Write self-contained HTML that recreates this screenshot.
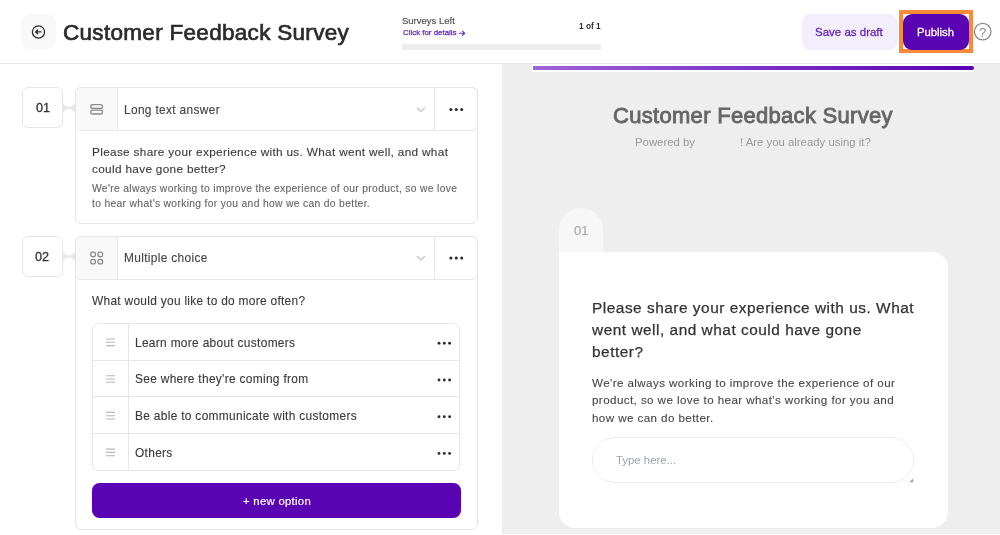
<!DOCTYPE html>
<html><head><meta charset="utf-8">
<style>
*{box-sizing:border-box;margin:0;padding:0}
html,body{width:1000px;height:535px;overflow:hidden;background:#fff}
body{position:relative;-webkit-font-smoothing:antialiased;font-family:"Liberation Sans",sans-serif;color:#333}
.a{position:absolute;will-change:transform}
.t{position:absolute;white-space:nowrap;line-height:1;will-change:transform}
svg{position:absolute;overflow:visible}
</style></head><body>

<!-- HEADER -->
<div class="a" style="left:0;top:63px;width:1000px;height:1px;background:#e6e6e6"></div>
<div class="a" style="left:21px;top:14px;width:35px;height:35px;border-radius:9px;background:#f8f8f8"></div>
<svg style="left:0;top:0" width="1" height="1">
  <circle cx="38.5" cy="31.9" r="6.1" fill="none" stroke="#2e2e2e" stroke-width="1.25"/>
  <path d="M40.9 31.9H36M37.7 30L35.6 31.9L37.7 33.8" fill="none" stroke="#2e2e2e" stroke-width="1.35" stroke-linecap="round" stroke-linejoin="round"/>
</svg>
<div class="t" style="left:63px;top:22px;font-size:22.5px;letter-spacing:0.3px;-webkit-text-stroke:0.7px #2b2b2b;color:#2b2b2b">Customer Feedback Survey</div>

<div class="t" style="left:402px;top:16px;font-size:9.5px;-webkit-text-stroke:0.2px #555;color:#555">Surveys Left</div>
<div class="t" style="left:402.5px;top:28.9px;font-size:7.9px;-webkit-text-stroke:0.25px #6a1fc4;color:#6a1fc4">Click for details</div>
<svg style="left:0;top:0" width="1" height="1"><path d="M459.6 33.3H464.6M462.5 31.2L464.7 33.3L462.5 35.4" fill="none" stroke="#6a1fc4" stroke-width="1.05" stroke-linecap="round" stroke-linejoin="round"/></svg>
<div class="a" style="left:402px;top:44px;width:199px;height:5.5px;background:#ededed"></div>
<div class="t" style="left:579px;top:21.5px;font-size:8.3px;font-weight:700;color:#2e2e2e">1 of 1</div>

<div class="a" style="left:801.5px;top:14px;width:96px;height:35.5px;border-radius:9px;background:#f3eefc"></div>
<div class="t" style="left:815px;top:27px;font-size:11.5px;-webkit-text-stroke:0.28px #6521bd;color:#6521bd">Save as draft</div>
<div class="a" style="left:899px;top:10px;width:73.5px;height:43px;border:4px solid #f98a3a"></div>
<div class="a" style="left:903px;top:14px;width:65.5px;height:35.5px;border-radius:9px;background:#5a03b3"></div>
<div class="t" style="left:917px;top:27px;font-size:11.3px;-webkit-text-stroke:0.28px #fff;color:#fff">Publish</div>
<svg style="left:0;top:0" width="1" height="1">
  <circle cx="982.7" cy="31.6" r="8.3" fill="none" stroke="#8a8a8a" stroke-width="1.25"/>
  <text x="982.7" y="36.6" text-anchor="middle" font-family="Liberation Sans" font-size="13" fill="#8a8a8a">?</text>
</svg>

<!-- RIGHT PANEL -->
<div class="a" style="left:502px;top:64px;width:498px;height:469.5px;background:#eeeeee"></div>
<div class="a" style="left:532px;top:64px;width:441.5px;height:8px;background:#fff"></div>
<div class="a" style="left:532.5px;top:66px;width:441px;height:4.2px;border-radius:0 2.1px 2.1px 0;background:linear-gradient(90deg,#9e64d8,#5a00b4)"></div>
<div class="t" style="left:613px;top:104.8px;font-size:22px;letter-spacing:0.3px;-webkit-text-stroke:0.85px #666;color:#666">Customer Feedback Survey</div>
<div class="t" style="left:634.5px;top:136.5px;font-size:11.36px;color:#999">Powered by</div>
<div class="t" style="left:739.5px;top:136.5px;font-size:11.36px;color:#999">! Are you already using it?</div>

<div class="a" style="left:559px;top:208px;width:44px;height:45px;border-radius:22px 22px 0 0;background:#f7f7f7"></div>
<div class="t" style="left:574px;top:223.5px;font-size:13px;-webkit-text-stroke:0.2px #aaa;color:#aaa">01</div>
<div class="a" style="left:559px;top:252px;width:389px;height:276px;border-radius:0 16px 16px 16px;background:#fff"></div>
<div class="a" style="left:591.7px;top:297px;width:400px;white-space:nowrap;font-size:15.4px;letter-spacing:0.52px;line-height:22px;-webkit-text-stroke:0.25px #333;color:#333">Please share your experience with us. What<br>went well, and what could have gone<br>better?</div>
<div class="a" style="left:592px;top:373.5px;width:400px;white-space:nowrap;font-size:11.6px;letter-spacing:0.42px;line-height:17.4px;-webkit-text-stroke:0.1px #444;color:#444">We're always working to improve the experience of our<br>product, so we love to hear what's working for you and<br>how we can do better.</div>
<div class="a" style="left:592.3px;top:437px;width:321.7px;height:45.5px;border:1px solid #ececec;border-radius:23px;background:#fff"></div>
<div class="t" style="left:616px;top:455px;font-size:11.4px;color:#9ca3af">Type here...</div>
<svg style="left:0;top:0" width="1" height="1">
  <path d="M909.3 482.3L913.2 478.4V482.3Z" fill="#a0a0a0"/>
</svg>

<!-- LEFT PANEL -->
<!-- Q1 -->
<div class="a" style="left:22.3px;top:87.3px;width:40.6px;height:40.6px;border:1px solid #e6e6e6;border-radius:6px"></div>
<div class="t" style="left:35.5px;top:102.0px;font-size:12.6px;-webkit-text-stroke:0.3px #333;color:#333">01</div>
<svg style="left:0;top:0" width="1" height="1">
  <path d="M62.5 100.3A6.4 6.4 0 0 0 75.3 100.3V115.3A6.4 6.4 0 0 0 62.5 115.3Z" fill="#e8e8e8"/>
</svg>
<div class="a" style="left:74.7px;top:87.3px;width:403.2px;height:136.6px;border:1px solid #e6e6e6;border-radius:6px"></div>
<div class="a" style="left:74.7px;top:87.3px;width:403.2px;height:43.9px;border:1px solid #e6e6e6;border-radius:6px"></div>
<div class="a" style="left:75.7px;top:88.3px;width:41.5px;height:41.9px;border-radius:5px 0 0 5px;background:#f9f9f9"></div>
<div class="a" style="left:117.2px;top:88.3px;width:1px;height:41.9px;background:#e6e6e6"></div>
<div class="a" style="left:434.2px;top:88.3px;width:1px;height:41.9px;background:#e6e6e6"></div>
<svg style="left:0;top:0" width="1" height="1">
  <rect x="90.7" y="104.6" width="11.8" height="3.8" rx="1.9" fill="none" stroke="#8a8a8a" stroke-width="1.3"/>
  <rect x="90.7" y="110.2" width="11.8" height="3.8" rx="1.9" fill="none" stroke="#8a8a8a" stroke-width="1.3"/>
  <path d="M417 107.8L420.9 111.5L424.8 107.8" fill="none" stroke="#c2c2c2" stroke-width="1.2"/>
  <circle cx="450.9" cy="109.5" r="1.55" fill="#2e2e2e"/>
  <circle cx="456.3" cy="109.5" r="1.55" fill="#2e2e2e"/>
  <circle cx="461.7" cy="109.5" r="1.55" fill="#2e2e2e"/>
</svg>
<div class="t" style="left:123.5px;top:104.5px;font-size:11.9px;letter-spacing:0.34px;-webkit-text-stroke:0.12px #444;color:#444">Long text answer</div>
<div class="a" style="left:91.6px;top:144px;width:400px;white-space:nowrap;font-size:11.8px;letter-spacing:0.32px;line-height:17.2px;-webkit-text-stroke:0.12px #3a3a3a;color:#3a3a3a">Please share your experience with us. What went well, and what<br>could have gone better?</div>
<div class="a" style="left:92px;top:181.2px;width:400px;white-space:nowrap;font-size:10.3px;letter-spacing:0.33px;line-height:15.4px;-webkit-text-stroke:0.12px #666;color:#666">We're always working to improve the experience of our product, so we love<br>to hear what's working for you and how we can do better.</div>

<!-- Q2 -->
<div class="a" style="left:22.3px;top:236px;width:40.6px;height:40.6px;border:1px solid #e6e6e6;border-radius:6px"></div>
<div class="t" style="left:34.5px;top:250.7px;font-size:12.6px;-webkit-text-stroke:0.3px #333;color:#333">02</div>
<svg style="left:0;top:0" width="1" height="1">
  <path d="M62.5 249A6.4 6.4 0 0 0 75.3 249V264A6.4 6.4 0 0 0 62.5 264Z" fill="#e8e8e8"/>
</svg>
<div class="a" style="left:74.7px;top:236px;width:403.2px;height:293.9px;border:1px solid #e6e6e6;border-radius:6px"></div>
<div class="a" style="left:74.7px;top:236px;width:403.2px;height:44.2px;border:1px solid #e6e6e6;border-radius:6px"></div>
<div class="a" style="left:75.7px;top:237px;width:41.5px;height:42.2px;border-radius:5px 0 0 5px;background:#f9f9f9"></div>
<div class="a" style="left:117.2px;top:237px;width:1px;height:42.2px;background:#e6e6e6"></div>
<div class="a" style="left:434.2px;top:237px;width:1px;height:42.2px;background:#e6e6e6"></div>
<svg style="left:0;top:0" width="1" height="1">
  <rect x="90.8" y="252.1" width="4.6" height="4.6" rx="1.9" fill="none" stroke="#8a8a8a" stroke-width="1.3"/>
  <rect x="98" y="252.1" width="4.6" height="4.6" rx="1.9" fill="none" stroke="#8a8a8a" stroke-width="1.3"/>
  <rect x="90.8" y="259.3" width="4.6" height="4.6" rx="1.9" fill="none" stroke="#8a8a8a" stroke-width="1.3"/>
  <rect x="98" y="259.3" width="4.6" height="4.6" rx="1.9" fill="none" stroke="#8a8a8a" stroke-width="1.3"/>
  <path d="M417 256.3L420.9 260L424.8 256.3" fill="none" stroke="#c2c2c2" stroke-width="1.2"/>
  <circle cx="450.9" cy="258" r="1.55" fill="#2e2e2e"/>
  <circle cx="456.3" cy="258" r="1.55" fill="#2e2e2e"/>
  <circle cx="461.7" cy="258" r="1.55" fill="#2e2e2e"/>
</svg>
<div class="t" style="left:123.5px;top:253px;font-size:11.9px;letter-spacing:0.34px;-webkit-text-stroke:0.12px #444;color:#444">Multiple choice</div>
<div class="t" style="left:92px;top:295.5px;font-size:11.9px;letter-spacing:0.3px;-webkit-text-stroke:0.12px #3a3a3a;color:#3a3a3a">What would you like to do more often?</div>

<!-- options table -->
<div class="a" style="left:92.1px;top:322.6px;width:368.1px;height:148.3px;border:1px solid #e6e6e6;border-radius:6px"></div>
<div class="a" style="left:128.1px;top:323.4px;width:1px;height:146.8px;background:#e6e6e6"></div>
<div class="a" style="left:92.8px;top:359.5px;width:366.8px;height:1px;background:#e6e6e6"></div>
<div class="a" style="left:92.8px;top:396.1px;width:366.8px;height:1px;background:#e6e6e6"></div>
<div class="a" style="left:92.8px;top:432.8px;width:366.8px;height:1px;background:#e6e6e6"></div>
<svg style="left:0;top:0" width="1" height="1">
  <g stroke="#b8b8b8" stroke-width="1.1">
    <path d="M106 339H115M106 342.3H115M106 345.6H115"/>
    <path d="M106 375.7H115M106 379H115M106 382.3H115"/>
    <path d="M106 412.4H115M106 415.7H115M106 419H115"/>
    <path d="M106 449.1H115M106 452.4H115M106 455.7H115"/>
  </g>
  <g fill="#2e2e2e">
    <circle cx="439" cy="343.3" r="1.45"/><circle cx="444.3" cy="343.3" r="1.45"/><circle cx="449.6" cy="343.3" r="1.45"/>
    <circle cx="439" cy="380" r="1.45"/><circle cx="444.3" cy="380" r="1.45"/><circle cx="449.6" cy="380" r="1.45"/>
    <circle cx="439" cy="416.7" r="1.45"/><circle cx="444.3" cy="416.7" r="1.45"/><circle cx="449.6" cy="416.7" r="1.45"/>
    <circle cx="439" cy="453.4" r="1.45"/><circle cx="444.3" cy="453.4" r="1.45"/><circle cx="449.6" cy="453.4" r="1.45"/>
  </g>
</svg>
<div class="t" style="left:134.5px;top:337.6px;font-size:11.9px;letter-spacing:0.32px;-webkit-text-stroke:0.12px #3a3a3a;color:#3a3a3a">Learn more about customers</div>
<div class="t" style="left:134.5px;top:374.4px;font-size:11.9px;letter-spacing:0.32px;-webkit-text-stroke:0.12px #3a3a3a;color:#3a3a3a">See where they're coming from</div>
<div class="t" style="left:134.5px;top:411.1px;font-size:11.9px;letter-spacing:0.32px;-webkit-text-stroke:0.12px #3a3a3a;color:#3a3a3a">Be able to communicate with customers</div>
<div class="t" style="left:134.5px;top:447.8px;font-size:11.9px;letter-spacing:0.32px;-webkit-text-stroke:0.12px #3a3a3a;color:#3a3a3a">Others</div>

<div class="a" style="left:92px;top:483px;width:368.5px;height:35px;border-radius:7.5px;background:#5a03b3"></div>
<div class="t" style="left:242.5px;top:495.5px;font-size:11.3px;letter-spacing:0.3px;-webkit-text-stroke:0.2px #fff;color:#fff">+ new option</div>

<div class="a" style="left:0;top:533.5px;width:1000px;height:2px;background:#fff"></div>
</body></html>
